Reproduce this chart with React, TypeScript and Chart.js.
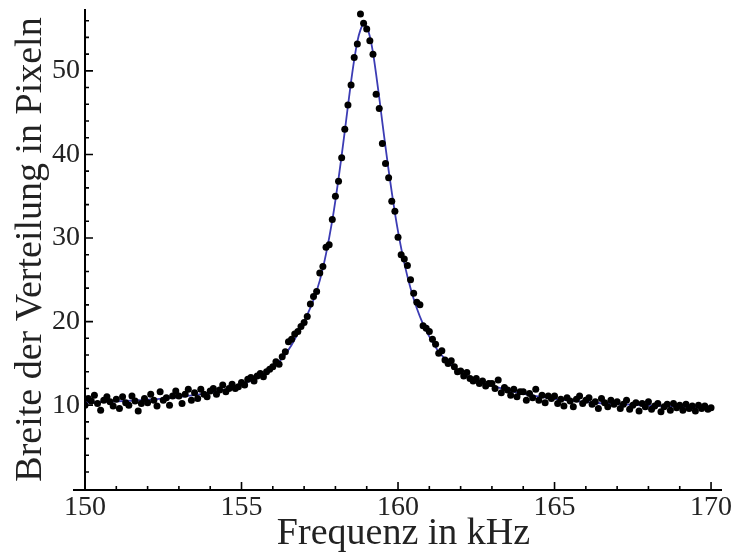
import React, { useEffect, useRef } from "react";
import { Chart, registerables } from "chart.js";

Chart.register(...registerables);

// Measured points: frequency in kHz
const measuredFreq = [
  150.0, 150.1, 150.2, 150.3, 150.4, 150.5, 150.6, 150.7, 150.8, 150.9,
  151.0, 151.1, 151.2, 151.3, 151.4, 151.5, 151.6, 151.7, 151.8, 151.9,
  152.0, 152.1, 152.2, 152.3, 152.4, 152.5, 152.6, 152.7, 152.8, 152.9,
  153.0, 153.1, 153.2, 153.3, 153.4, 153.5, 153.6, 153.7, 153.8, 153.9,
  154.0, 154.1, 154.2, 154.3, 154.4, 154.5, 154.6, 154.7, 154.8, 154.9,
  155.0, 155.1, 155.2, 155.3, 155.4, 155.5, 155.6, 155.7, 155.8, 155.9,
  156.0, 156.1, 156.2, 156.3, 156.4, 156.5, 156.6, 156.7, 156.8, 156.9,
  157.0, 157.1, 157.2, 157.3, 157.4, 157.5, 157.6, 157.7, 157.8, 157.9,
  158.0, 158.1, 158.2, 158.3, 158.4, 158.5, 158.6, 158.7, 158.8, 158.9,
  159.0, 159.1, 159.2, 159.3, 159.4, 159.5, 159.6, 159.7, 159.8, 159.9,
  160.0, 160.1, 160.2, 160.3, 160.4, 160.5, 160.6, 160.7, 160.8, 160.9,
  161.0, 161.1, 161.2, 161.3, 161.4, 161.5, 161.6, 161.7, 161.8, 161.9,
  162.0, 162.1, 162.2, 162.3, 162.4, 162.5, 162.6, 162.7, 162.8, 162.9,
  163.0, 163.1, 163.2, 163.3, 163.4, 163.5, 163.6, 163.7, 163.8, 163.9,
  164.0, 164.1, 164.2, 164.3, 164.4, 164.5, 164.6, 164.7, 164.8, 164.9,
  165.0, 165.1, 165.2, 165.3, 165.4, 165.5, 165.6, 165.7, 165.8, 165.9,
  166.0, 166.1, 166.2, 166.3, 166.4, 166.5, 166.6, 166.7, 166.8, 166.9,
  167.0, 167.1, 167.2, 167.3, 167.4, 167.5, 167.6, 167.7, 167.8, 167.9,
  168.0, 168.1, 168.2, 168.3, 168.4, 168.5, 168.6, 168.7, 168.8, 168.9,
  169.0, 169.1, 169.2, 169.3, 169.4, 169.5, 169.6, 169.7, 169.8, 169.9,
  170.0,
];

// Measured points: width of the distribution in pixels
const measuredWidth = [
  10.0, 10.8, 10.5, 11.2, 10.2, 9.4, 10.6, 11.0, 10.4, 9.9,
  10.7, 9.6, 11.0, 10.3, 10.0, 11.1, 10.5, 9.3, 10.2, 10.8,
  10.3, 11.3, 10.6, 9.9, 11.6, 10.6, 10.9, 10.0, 11.1, 11.7,
  11.1, 10.2, 11.3, 11.9, 10.6, 11.5, 10.8, 11.9, 11.3, 11.0,
  11.7, 12.0, 11.3, 11.8, 12.4, 11.6, 12.0, 12.5, 12.0, 12.2,
  12.7, 12.4, 13.1, 13.3, 12.9, 13.5, 13.8, 13.4, 14.0, 14.3,
  14.6, 15.2, 14.9, 15.8, 16.4, 17.6, 17.9, 18.5, 18.8, 19.4,
  19.9, 20.6, 22.1, 23.0, 23.6, 25.8, 26.6, 28.9, 29.2, 32.2,
  35.0, 36.8, 39.6, 43.0, 45.9, 48.3, 51.6, 53.2, 56.8, 55.7,
  55.0, 53.6, 52.0, 47.2, 45.5, 41.3, 38.9, 37.2, 34.4, 33.2,
  30.1, 28.0, 27.5, 26.7, 25.0, 23.4, 22.3, 22.0, 19.5, 19.2,
  18.8, 17.9, 17.3, 16.2, 16.5, 15.4, 15.0, 15.3, 14.6, 14.0,
  14.1, 13.5, 13.9, 13.2, 12.9, 13.2, 12.6, 12.9, 12.3, 12.6,
  12.6, 12.0, 13.0, 11.5, 12.1, 11.8, 11.2, 11.9, 11.0, 11.6,
  11.6, 10.6, 11.4, 10.9, 11.9, 10.6, 11.2, 10.3, 11.1, 10.8,
  11.1, 10.2, 10.7, 9.9, 10.9, 10.5, 9.8, 10.7, 11.1, 10.2,
  10.6, 10.9, 10.1, 10.4, 9.6, 10.8, 10.3, 9.8, 10.6, 10.1,
  10.4, 9.6, 10.1, 10.6, 9.5, 10.0, 10.3, 9.3, 10.2, 9.8,
  10.4, 9.5, 9.9, 10.2, 9.2, 9.8, 10.1, 9.4, 10.2, 9.7,
  10.0, 9.4, 10.1, 9.6, 9.9, 9.3, 10.0, 9.6, 9.9, 9.5,
  9.7,
];

// Fitted resonance curve
const fitFreq = [
  150, 151, 152, 153, 154, 154.5, 155, 155.5, 156, 156.3, 156.6, 156.9,
  157.1, 157.3, 157.5, 157.7, 157.9, 158, 158.1, 158.2, 158.3, 158.4, 158.5,
  158.6, 158.7, 158.8, 158.9, 159, 159.1, 159.2, 159.3, 159.4, 159.5, 159.6,
  159.7, 159.8, 159.9, 160, 160.2, 160.4, 160.6, 160.8, 161, 161.3, 161.6,
  162, 162.5, 163, 163.5, 164, 165, 166, 167, 168, 169, 170,
];
const fitWidth = [
  10.32, 10.45, 10.65, 10.97, 11.49, 11.9, 12.5, 13.3, 14.55, 15.6, 17.2, 19.3,
  20.8, 22.6, 24.9, 28.1, 32.1, 34.5, 37.1, 39.9, 42.8, 45.8, 48.7,
  51.3, 53.5, 54.9, 55.6, 55.3, 54.1, 52.2, 49.6, 46.8, 43.8, 40.9,
  38.1, 35.5, 33.0, 30.8, 27.0, 24.0, 21.6, 19.7, 18.2, 16.4, 15.2,
  13.95, 12.9, 12.35, 11.8, 11.35, 10.75, 10.38, 10.12, 9.95, 9.82, 9.72,
];

const xMajorTicks = [150, 155, 160, 165, 170];
const xMinorTicks = [151, 152, 153, 154, 156, 157, 158, 159, 161, 162, 163, 164, 166, 167, 168, 169];
const yMajorTicks = [10, 20, 30, 40, 50];
const yMinorTicks = [2, 4, 6, 8, 12, 14, 16, 18, 22, 24, 26, 28, 32, 34, 36, 38, 42, 44, 46, 48, 52, 54, 56];

const xTitle = "Frequenz in kHz";
const yTitle = "Breite der Verteilung in Pixeln";

const SERIF = '"Liberation Serif", "Times New Roman", "DejaVu Serif", serif';

const axesPlugin = {
  id: "mmaAxes",
  afterDatasetsDraw(chart: any) {
    const { ctx, chartArea, scales } = chart;
    const xs = scales.x;
    const ys = scales.y;
    const x0 = chartArea.left;
    const y0 = chartArea.bottom;
    ctx.save();
    ctx.strokeStyle = "#000";
    ctx.lineWidth = 2;
    ctx.lineCap = "butt";
    ctx.beginPath();
    ctx.moveTo(x0 - 12, y0);
    ctx.lineTo(chartArea.right, y0);
    ctx.moveTo(x0, y0 + 1);
    ctx.lineTo(x0, chartArea.top);
    ctx.stroke();

    ctx.lineWidth = 1.6;
    ctx.beginPath();
    xMajorTicks.forEach((v) => {
      const p = xs.getPixelForValue(v);
      ctx.moveTo(p, y0);
      ctx.lineTo(p, y0 - 8);
    });
    xMinorTicks.forEach((v) => {
      const p = xs.getPixelForValue(v);
      ctx.moveTo(p, y0);
      ctx.lineTo(p, y0 - 4);
    });
    yMajorTicks.forEach((v) => {
      const p = ys.getPixelForValue(v);
      ctx.moveTo(x0, p);
      ctx.lineTo(x0 + 8, p);
    });
    yMinorTicks.forEach((v) => {
      const p = ys.getPixelForValue(v);
      ctx.moveTo(x0, p);
      ctx.lineTo(x0 + 4, p);
    });
    ctx.stroke();
    ctx.restore();
  },
};

export default function App() {
  const canvasRef = useRef<HTMLCanvasElement | null>(null);

  useEffect(() => {
    const canvas = canvasRef.current;
    if (!canvas) return;
    const chart = new Chart(canvas, {
      type: "scatter",
      data: {
        datasets: [
          {
            label: "Messwerte",
            data: measuredFreq.map((f, i) => ({ x: f, y: measuredWidth[i] })),
            pointRadius: 3.5,
            pointStyle: "circle",
            backgroundColor: "#000",
            borderColor: "#000",
            borderWidth: 0,
            showLine: false,
          },
          {
            label: "Fit",
            data: fitFreq.map((f, i) => ({ x: f, y: fitWidth[i] })),
            showLine: true,
            pointRadius: 0,
            borderColor: "#3c3cb4",
            borderWidth: 1.8,
            cubicInterpolationMode: "monotone",
            fill: false,
          },
        ],
      },
      options: {
        responsive: false,
        animation: false,
        layout: { padding: { top: 9, right: 12, left: 0, bottom: 0 } },
        plugins: {
          legend: { display: false },
          tooltip: { enabled: false },
        },
        scales: {
          x: {
            type: "linear",
            min: 150,
            max: 170.35,
            grid: { display: false, drawTicks: false },
            border: { display: false },
            afterBuildTicks: (s: any) => {
              s.ticks = xMajorTicks.map((v) => ({ value: v }));
            },
            afterFit: (s: any) => {
              s.height = 67;
              s.paddingLeft = 0;
              s.paddingRight = 0;
            },
            ticks: {
              font: { family: SERIF, size: 28 },
              color: "#222",
              padding: 1,
              maxRotation: 0,
              autoSkip: false,
            },
            title: {
              display: true,
              text: xTitle,
              font: { family: SERIF, size: 38 },
              color: "#222",
              padding: { top: 0, bottom: 0 },
            },
          },
          y: {
            type: "linear",
            min: -0.15,
            max: 57.4,
            grid: { display: false, drawTicks: false },
            border: { display: false },
            afterBuildTicks: (s: any) => {
              s.ticks = yMajorTicks.map((v) => ({ value: v }));
            },
            afterFit: (s: any) => {
              s.width = 85;
              s.paddingTop = 0;
              s.paddingBottom = 0;
            },
            ticks: {
              font: { family: SERIF, size: 28 },
              color: "#222",
              padding: 5,
              autoSkip: false,
            },
            title: {
              display: true,
              text: yTitle,
              font: { family: SERIF, size: 38 },
              color: "#222",
              padding: { top: 8, bottom: 0 },
            },
          },
        },
      },
      plugins: [axesPlugin],
    });
    return () => chart.destroy();
  }, []);

  return (
    <div style={{ position: "fixed", left: 0, top: 0, width: 734, height: 557, background: "#fff" }}>
      <canvas ref={canvasRef} width={734} height={557} style={{ width: 734, height: 557 }} />
    </div>
  );
}
